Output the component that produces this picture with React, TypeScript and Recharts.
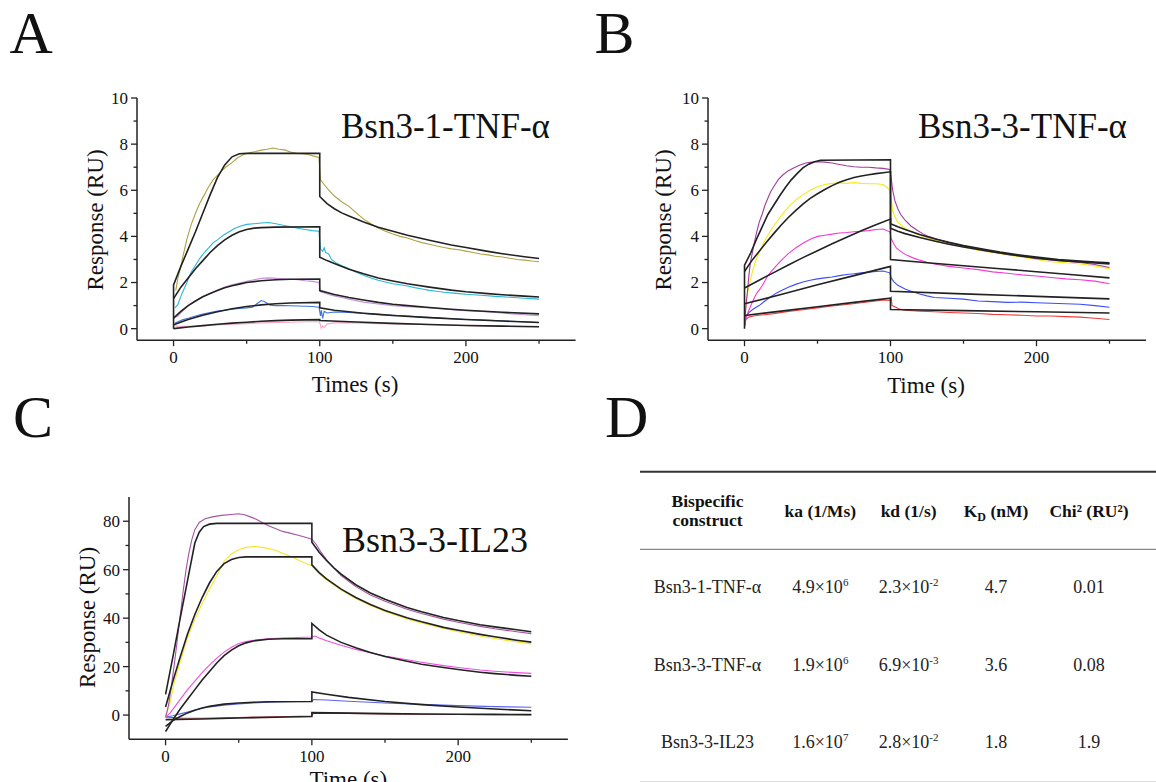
import React from 'react';
import { LineChart, Line, XAxis, YAxis } from 'recharts';

type P = [number, number];

// ---------------- Panel A : Bsn3-1-TNF-α ----------------
const A_OLIVE: P[] = [[1.5,1.65],[3,2.2],[5,2.7],[7,3.3],[9,3.85],[12,4.5],[15,5.0],[18,5.45],[21,5.8],[24,6.15],[27,6.45],[30,6.65],[33,6.85],[36,7.02],[40,7.2],[44,7.42],[48,7.55],[52,7.63],[56,7.68],[60,7.74],[64,7.78],[68,7.83],[72,7.78],[76,7.75],[80,7.66],[84,7.6],[88,7.58],[92,7.55],[96,7.48],[99.5,7.42],[100.5,6.45],[103,6.25],[106,6.02],[110,5.75],[115,5.5],[120,5.3],[125,5.02],[130,4.75],[135,4.55],[140,4.36],[145,4.22],[150,4.1],[155,4.0],[160,3.93],[165,3.82],[170,3.73],[175,3.66],[180,3.58],[185,3.52],[190,3.46],[195,3.42],[200,3.36],[205,3.3],[210,3.24],[215,3.2],[220,3.14],[225,3.11],[230,3.05],[235,3.0],[240,2.97],[245,2.93],[250,2.9]];
const A_CYAN: P[] = [[1,0.9],[3,1.05],[5,1.4],[7,1.7],[9,1.98],[12,2.45],[15,2.75],[18,3.05],[21,3.3],[24,3.5],[27,3.72],[30,3.85],[34,4.05],[38,4.2],[42,4.35],[46,4.45],[50,4.52],[55,4.55],[60,4.58],[65,4.6],[70,4.55],[75,4.48],[80,4.42],[85,4.35],[90,4.3],[95,4.25],[99.5,4.22],[100.5,3.45],[102,3.35],[103,3.5],[104,3.3],[106,3.25],[108,3.0],[112,2.82],[116,2.7],[120,2.6],[125,2.45],[130,2.32],[135,2.2],[140,2.1],[145,2.02],[150,1.95],[155,1.9],[160,1.85],[165,1.78],[170,1.72],[175,1.66],[180,1.62],[185,1.58],[190,1.55],[195,1.52],[200,1.49],[210,1.45],[220,1.4],[230,1.36],[240,1.32],[250,1.28]];
const A_LILAC: P[] = [[1,0.5],[3,0.55],[6,0.75],[10,1.0],[15,1.2],[20,1.38],[25,1.52],[30,1.68],[35,1.8],[40,1.9],[45,1.98],[50,2.05],[55,2.12],[60,2.18],[65,2.2],[70,2.18],[75,2.16],[80,2.14],[85,2.12],[90,2.08],[95,2.05],[99.5,2.0],[100.5,1.6],[103,1.55],[106,1.48],[110,1.42],[115,1.35],[120,1.28],[130,1.15],[140,1.07],[150,1.0],[160,0.95],[170,0.92],[180,0.88],[190,0.82],[200,0.78],[210,0.75],[220,0.7],[230,0.65],[240,0.6],[250,0.56]];
const A_BLUE: P[] = [[1,0.25],[3,0.3],[6,0.38],[10,0.45],[15,0.55],[20,0.63],[25,0.7],[30,0.76],[35,0.8],[40,0.84],[45,0.88],[50,0.9],[54,0.93],[57,1.08],[60,1.22],[62,1.18],[64,1.1],[66,1.02],[70,1.0],[75,1.0],[80,0.99],[85,0.98],[90,0.97],[95,0.96],[99.5,0.93],[100.5,0.55],[101,0.8],[102,0.45],[103,0.75],[105,0.68],[110,0.72],[120,0.7],[130,0.66],[140,0.62],[150,0.58],[160,0.55],[170,0.5],[180,0.47],[190,0.43],[200,0.4],[210,0.38],[220,0.35],[230,0.32],[240,0.3],[250,0.27]];
const A_PINK: P[] = [[1,0.15],[3,0.08],[6,0.1],[10,0.1],[20,0.12],[30,0.16],[40,0.19],[50,0.22],[60,0.25],[70,0.27],[80,0.28],[90,0.3],[99,0.3],[100,0.26],[101,0.02],[102,0.12],[103,0.05],[105,0.2],[110,0.25],[120,0.26],[130,0.24],[140,0.22],[150,0.2],[170,0.18],[190,0.15],[210,0.12],[230,0.1],[250,0.08]];
const A_FIT1: P[] = [[0,0],[0,1.9],[5,2.7],[10,3.45],[15,4.2],[20,5.0],[25,5.8],[30,6.55],[35,7.1],[40,7.45],[45,7.58],[50,7.6],[100,7.6],[100,5.73],[105,5.42],[110,5.2],[115,5.02],[120,4.88],[125,4.75],[130,4.62],[140,4.4],[150,4.22],[160,4.05],[175,3.83],[190,3.63],[200,3.52],[215,3.35],[225,3.25],[240,3.12],[250,3.04]];
const A_FIT2: P[] = [[0,1.3],[5,1.8],[10,2.2],[15,2.6],[20,2.95],[25,3.3],[30,3.6],[35,3.85],[40,4.05],[45,4.2],[50,4.3],[55,4.36],[60,4.38],[70,4.4],[100,4.42],[100,3.1],[105,2.95],[110,2.82],[120,2.58],[130,2.38],[140,2.2],[150,2.07],[160,1.95],[175,1.8],[190,1.67],[200,1.6],[215,1.52],[225,1.47],[240,1.41],[250,1.37]];
const A_FIT3: P[] = [[0,0.46],[5,0.75],[10,1.0],[15,1.2],[20,1.38],[25,1.52],[30,1.65],[35,1.77],[40,1.86],[45,1.93],[50,2.0],[60,2.08],[70,2.12],[80,2.14],[100,2.15],[100,1.65],[110,1.48],[120,1.35],[130,1.24],[140,1.14],[150,1.06],[160,1.0],[175,0.92],[190,0.84],[200,0.8],[225,0.71],[250,0.64]];
const A_FIT4: P[] = [[0,0.17],[10,0.4],[20,0.58],[30,0.73],[40,0.86],[50,0.96],[60,1.03],[70,1.08],[80,1.11],[100,1.14],[100,0.9],[110,0.8],[120,0.73],[130,0.67],[140,0.62],[150,0.57],[175,0.48],[200,0.4],[225,0.33],[250,0.27]];
const A_FIT5: P[] = [[0,0.0],[10,0.07],[20,0.13],[30,0.19],[40,0.24],[50,0.28],[60,0.32],[70,0.35],[80,0.37],[90,0.38],[100,0.39],[100,0.35],[125,0.29],[150,0.23],[175,0.18],[200,0.14],[225,0.11],[250,0.08]];

// ---------------- Panel B : Bsn3-3-TNF-α ----------------
const B_PURPLE: P[] = [[0,0.1],[1,1.0],[2,1.6],[3,2.3],[4,2.85],[6,3.5],[8,4.1],[10,4.6],[12,4.95],[14,5.35],[16,5.65],[18,5.95],[20,6.15],[23,6.45],[26,6.65],[30,6.85],[34,6.98],[38,7.1],[42,7.18],[46,7.22],[50,7.24],[55,7.22],[60,7.18],[65,7.12],[70,7.06],[75,7.02],[80,7.0],[85,7.0],[90,6.97],[95,6.95],[99.5,6.9],[100.5,6.5],[101.5,6.0],[103,5.55],[105,5.2],[107,4.95],[110,4.7],[114,4.45],[118,4.28],[122,4.12],[126,4.0],[130,3.92],[135,3.82],[140,3.73],[145,3.66],[150,3.58],[160,3.46],[170,3.33],[180,3.22],[190,3.14],[200,3.03],[210,2.98],[220,2.92],[230,2.87],[240,2.78],[250,2.65]];
const B_YELLOW: P[] = [[0,0.3],[1,1.0],[2,1.5],[4,2.1],[6,2.6],[8,3.0],[10,3.3],[13,3.7],[16,4.05],[20,4.45],[24,4.8],[28,5.12],[32,5.4],[36,5.62],[40,5.8],[45,6.0],[50,6.15],[55,6.25],[60,6.3],[65,6.32],[70,6.3],[75,6.33],[80,6.3],[85,6.28],[90,6.28],[95,6.25],[98,6.1],[99.5,6.0],[100.5,5.6],[101.5,5.1],[103,4.85],[105,4.62],[108,4.45],[112,4.28],[116,4.15],[120,4.05],[125,3.95],[130,3.86],[135,3.76],[140,3.68],[150,3.54],[160,3.4],[170,3.3],[180,3.2],[190,3.1],[200,3.0],[210,2.9],[220,2.86],[230,2.8],[240,2.72],[250,2.6]];
const B_MAGENTA: P[] = [[0,0.1],[1,0.5],[3,0.8],[5,1.1],[8,1.5],[12,1.85],[16,2.3],[20,2.6],[25,2.95],[30,3.25],[35,3.5],[40,3.7],[45,3.88],[50,4.0],[55,4.05],[60,4.1],[65,4.15],[70,4.17],[75,4.2],[80,4.22],[85,4.25],[90,4.3],[95,4.32],[99.5,4.2],[100.5,3.9],[102,3.7],[104,3.5],[107,3.35],[110,3.22],[115,3.08],[120,2.97],[125,2.88],[130,2.8],[140,2.7],[150,2.63],[160,2.56],[170,2.46],[180,2.4],[190,2.33],[200,2.28],[210,2.22],[220,2.16],[230,2.12],[240,2.06],[250,1.95]];
const B_BLUE: P[] = [[0,0.1],[1,0.5],[3,0.7],[6,0.85],[10,1.0],[14,1.2],[18,1.38],[22,1.55],[26,1.68],[30,1.8],[35,1.92],[40,2.02],[45,2.1],[50,2.16],[55,2.2],[60,2.24],[65,2.3],[70,2.35],[75,2.38],[80,2.42],[85,2.45],[90,2.48],[95,2.5],[99.5,2.42],[100.5,2.2],[102,2.05],[105,1.88],[110,1.72],[115,1.6],[120,1.5],[125,1.42],[130,1.35],[140,1.32],[150,1.28],[160,1.2],[170,1.17],[180,1.14],[190,1.15],[200,1.12],[210,1.1],[220,1.08],[230,1.06],[240,1.0],[250,0.93]];
const B_RED: P[] = [[0,0.1],[1,0.4],[3,0.5],[6,0.55],[10,0.58],[20,0.65],[30,0.75],[40,0.82],[50,0.9],[60,0.98],[70,1.05],[80,1.12],[90,1.2],[95,1.24],[99.5,1.22],[100.5,1.35],[101,1.0],[103,0.95],[106,0.85],[110,0.8],[120,0.76],[130,0.73],[140,0.7],[150,0.68],[160,0.66],[170,0.62],[180,0.6],[190,0.58],[200,0.55],[210,0.55],[220,0.52],[230,0.5],[240,0.45],[250,0.4]];
const B_FIT1: P[] = [[0,0],[0,2.75],[4,3.25],[8,3.85],[12,4.4],[16,4.95],[20,5.35],[24,5.75],[28,6.12],[32,6.45],[36,6.72],[40,6.97],[44,7.13],[48,7.24],[52,7.3],[100,7.32],[100,4.55],[105,4.42],[110,4.3],[120,4.08],[130,3.9],[140,3.74],[150,3.6],[165,3.43],[175,3.32],[190,3.18],[200,3.1],[215,3.0],[225,2.95],[240,2.89],[250,2.85]];
const B_FIT2: P[] = [[0,2.48],[5,2.95],[10,3.35],[15,3.75],[20,4.12],[25,4.48],[30,4.82],[35,5.12],[40,5.4],[45,5.65],[50,5.85],[55,6.03],[60,6.2],[65,6.35],[70,6.46],[75,6.55],[80,6.62],[85,6.67],[90,6.72],[95,6.76],[100,6.8],[100,4.35],[105,4.22],[110,4.12],[120,3.95],[130,3.8],[140,3.66],[150,3.54],[165,3.38],[175,3.28],[190,3.14],[200,3.06],[215,2.96],[225,2.91],[240,2.85],[250,2.81]];
const B_FIT3: P[] = [[0,1.76],[10,2.1],[20,2.43],[30,2.76],[40,3.08],[50,3.38],[60,3.68],[70,3.96],[80,4.24],[90,4.5],[100,4.75],[100,3.0],[125,2.86],[150,2.73],[175,2.6],[200,2.47],[225,2.34],[250,2.2]];
const B_FIT4: P[] = [[0,1.08],[25,1.48],[50,1.9],[75,2.3],[100,2.7],[100,1.62],[150,1.51],[200,1.4],[250,1.29]];
const B_FIT5: P[] = [[0,0.57],[25,0.76],[50,0.95],[75,1.14],[100,1.32],[100,0.83],[150,0.78],[200,0.73],[250,0.68]];

// ---------------- Panel C : Bsn3-3-IL23 ----------------
const C_PURPLE: P[] = [[0,-0.8],[2,4],[4,12],[6,21],[8,31],[10,41],[12,51],[14,60],[16,67],[18,72.5],[20,76.5],[23,79.5],[27,81],[32,81.8],[38,82.4],[45,82.8],[50,83.1],[54,82.7],[58,81.8],[62,80.8],[66,79.5],[70,78.2],[75,77],[80,75.8],[85,75.1],[90,74.3],[95,73.5],[100,72.6],[103,70.4],[106,67.5],[110,64.2],[115,60.6],[120,57.6],[130,53],[140,49.6],[150,47],[165,43.7],[175,41.9],[190,39.6],[200,38.3],[215,36.6],[225,35.6],[240,34.4],[250,33.6]];
const C_YELLOW: P[] = [[0,-0.8],[3,5],[6,13.6],[10,22],[15,32],[20,39.5],[25,46],[30,52],[35,57.5],[40,63.5],[45,66.5],[50,68.2],[55,69.2],[60,69.6],[65,69.3],[70,68.8],[75,68],[80,66.8],[85,65.6],[90,64.2],[95,62.8],[100,61.6],[105,58.3],[110,55.8],[120,51.6],[130,48.1],[140,45.2],[150,42.7],[165,39.7],[175,38],[190,35.7],[200,34.4],[215,32.6],[225,31.6],[240,30.2],[250,29.4]];
const C_MAGENTA: P[] = [[0,-0.8],[3,0.8],[6,3.2],[10,6.5],[15,10.5],[20,14],[25,17.5],[30,20.6],[35,23.5],[40,26],[45,28],[50,29.5],[55,30.3],[60,30.9],[70,31.5],[80,31.8],[90,32],[100,32.2],[102,32.6],[105,31.8],[110,30.7],[120,28.8],[130,27.1],[140,25.7],[150,24.4],[165,22.8],[175,21.8],[190,20.4],[200,19.6],[215,18.6],[225,18.1],[240,17.5],[250,17.2]];
const C_BLUE: P[] = [[0,-0.8],[5,-0.3],[10,0.5],[15,1.3],[20,2.1],[25,2.8],[30,3.3],[40,4.1],[50,4.6],[60,5.0],[70,5.3],[80,5.5],[90,5.6],[100,5.7],[101,6.4],[110,6.2],[125,5.7],[150,5.0],[175,4.4],[200,3.9],[225,3.5],[250,3.2]];
const C_RED: P[] = [[0,-0.8],[10,-1.2],[25,-1.3],[50,-1.0],[75,-0.7],[100,-0.4],[101,0.8],[125,0.7],[150,0.5],[175,0.35],[200,0.25],[225,0.15],[250,0.1]];
const C_FIT1: P[] = [[0,8.5],[5,24],[10,40],[15,55.5],[20,71],[23,75.5],[26,77.8],[30,78.8],[35,79.1],[100,79.1],[100,71.3],[105,67.2],[110,63.8],[115,60.8],[120,58.2],[130,53.8],[140,50.4],[150,47.8],[165,44.4],[175,42.6],[190,40.3],[200,39],[215,37.3],[225,36.4],[240,35.2],[250,34.4]];
const C_FIT2: P[] = [[0,3.3],[5,14],[10,24],[15,33.5],[20,41.5],[25,48.5],[30,54.5],[35,59.3],[40,62.5],[45,64.2],[50,65],[55,65.3],[100,65.3],[100,62],[105,58.8],[110,56.2],[120,52],[130,48.5],[140,45.6],[150,43.2],[165,40.2],[175,38.5],[190,36.2],[200,35],[215,33.3],[225,32.3],[240,30.9],[250,30.1]];
const C_FIT3: P[] = [[0,-6.8],[5,-2],[10,2.5],[15,6.5],[20,10.5],[25,14.5],[30,18],[35,21.5],[40,24.5],[45,26.8],[50,28.6],[55,29.8],[60,30.6],[70,31.3],[80,31.5],[100,31.5],[100,37.8],[105,35.2],[110,33],[120,30],[130,27.8],[140,25.8],[150,24.2],[165,22.2],[175,21],[190,19.6],[200,18.8],[215,17.7],[225,17.1],[240,16.4],[250,16]];
const C_FIT4: P[] = [[0,-4.7],[5,-2.3],[10,-0.6],[15,0.9],[20,2],[25,2.9],[30,3.6],[40,4.5],[50,5],[60,5.3],[70,5.5],[100,5.6],[100,9.5],[110,8.6],[125,7.3],[150,5.6],[175,4.3],[200,3.3],[225,2.5],[250,1.8]];
const C_FIT5: P[] = [[0,-1.9],[25,-1.6],[50,-1.2],[75,-0.9],[100,-0.6],[100,1.0],[125,0.8],[150,0.6],[175,0.45],[200,0.35],[225,0.27],[250,0.2]];

// ---------------- Axis ticks ----------------
const X_TICKS = [0, 50, 100, 150, 200, 250];
const X_MAJOR = [0, 100, 200];
const AB_Y_TICKS = [0, 1, 2, 3, 4, 5, 6, 7, 8, 9, 10];
const AB_Y_MAJOR = [0, 2, 4, 6, 8, 10];
const C_Y_TICKS = [0, 10, 20, 30, 40, 50, 60, 70, 80];
const C_Y_MAJOR = [0, 20, 40, 60, 80];

// ---------------- Table D ----------------
const T_CONSTRUCTS = ['Bsn3-1-TNF-α', 'Bsn3-3-TNF-α', 'Bsn3-3-IL23'];
const T_KA_MANT = ['4.9', '1.9', '1.6'];
const T_KA_EXP = ['6', '6', '7'];
const T_KD_MANT = ['2.3', '6.9', '2.8'];
const T_KD_EXP = ['-2', '-3', '-2'];
const T_KDNM = ['4.7', '3.6', '1.8'];
const T_CHI = ['0.01', '0.08', '1.9'];

const FONT = '"Liberation Serif", "Times New Roman", serif';
const FIT = '#222222';

const toData = (pts: P[]) => pts.map(([t, v]) => ({ t, v }));

type S = { pts: P[]; color: string; w: number };

const mkX = (majors: number[]) => (props: any) => {
  const { x, y, payload } = props;
  const major = majors.includes(payload.value);
  return (
    <g>
      <line x1={x} y1={y} x2={x} y2={y + (major ? 6 : 3.5)} stroke="#222" strokeWidth={1.3} />
      {major && (
        <text x={x} y={y + 23} textAnchor="middle" fontSize={17} fontFamily={FONT} fill="#111">
          {payload.value}
        </text>
      )}
    </g>
  );
};

const mkY = (majors: number[]) => (props: any) => {
  const { x, y, payload } = props;
  const major = majors.includes(payload.value);
  return (
    <g>
      <line x1={x - (major ? 6 : 3.5)} y1={y} x2={x} y2={y} stroke="#222" strokeWidth={1.3} />
      {major && (
        <text x={x - 9} y={y} dy="0.35em" textAnchor="end" fontSize={17} fontFamily={FONT} fill="#111">
          {payload.value}
        </text>
      )}
    </g>
  );
};

function Panel(props: {
  left: number; top: number; w: number; h: number;
  yDomain: [number, number]; yTicks: number[]; yMajor: number[];
  series: S[];
}) {
  const YW = 60, MT = 10, MR = 10, XH = 40;
  const { left, top, w, h, yDomain, yTicks, yMajor, series } = props;
  return (
    <div style={{ position: 'absolute', left: left - YW, top: top - MT }}>
      <LineChart width={YW + w + MR} height={MT + h + XH} margin={{ top: MT, right: MR, bottom: 0, left: 0 }} style={{ overflow: 'visible' }}>
        <XAxis
          dataKey="t" type="number" domain={[-25, 275]} ticks={X_TICKS} interval={0} allowDataOverflow
          height={XH} tickLine={false} tickSize={0} tickMargin={0}
          axisLine={{ stroke: '#222', strokeWidth: 1.5 }} tick={mkX(X_MAJOR)}
        />
        <YAxis
          type="number" domain={yDomain} ticks={yTicks} interval={0} allowDataOverflow
          width={YW} tickLine={false} tickSize={0} tickMargin={0}
          axisLine={{ stroke: '#222', strokeWidth: 1.5 }} tick={mkY(yMajor)}
        />
        {series.map((s, i) => (
          <Line
            key={i} data={toData(s.pts)} dataKey="v" type="linear" stroke={s.color} strokeWidth={s.w}
            dot={false} activeDot={false} isAnimationActive={false} legendType="none"
          />
        ))}
      </LineChart>
    </div>
  );
}

const DW = 1.1, FW = 1.6;

const SERIES_A: S[] = [
  { pts: A_PINK, color: '#f2a6c6', w: DW },
  { pts: A_BLUE, color: '#3f74e0', w: DW },
  { pts: A_LILAC, color: '#c490e0', w: DW },
  { pts: A_CYAN, color: '#28b8d8', w: DW },
  { pts: A_OLIVE, color: '#b0a040', w: DW },
  { pts: A_FIT5, color: FIT, w: FW },
  { pts: A_FIT4, color: FIT, w: FW },
  { pts: A_FIT3, color: FIT, w: FW },
  { pts: A_FIT2, color: FIT, w: FW },
  { pts: A_FIT1, color: FIT, w: FW },
];
const SERIES_B: S[] = [
  { pts: B_RED, color: '#f03c3c', w: DW },
  { pts: B_BLUE, color: '#3d4ef5', w: DW },
  { pts: B_MAGENTA, color: '#f53ad6', w: DW },
  { pts: B_YELLOW, color: '#f7ea1a', w: DW },
  { pts: B_PURPLE, color: '#9e3d9e', w: DW },
  { pts: B_FIT5, color: FIT, w: FW },
  { pts: B_FIT4, color: FIT, w: FW },
  { pts: B_FIT3, color: FIT, w: FW },
  { pts: B_FIT2, color: FIT, w: FW },
  { pts: B_FIT1, color: FIT, w: FW },
];
const SERIES_C: S[] = [
  { pts: C_RED, color: '#c83232', w: DW },
  { pts: C_BLUE, color: '#5a64f0', w: DW },
  { pts: C_MAGENTA, color: '#f04ee0', w: DW },
  { pts: C_YELLOW, color: '#f5e62a', w: DW },
  { pts: C_PURPLE, color: '#a652a6', w: DW },
  { pts: C_FIT5, color: FIT, w: FW },
  { pts: C_FIT4, color: FIT, w: FW },
  { pts: C_FIT3, color: FIT, w: FW },
  { pts: C_FIT2, color: FIT, w: FW },
  { pts: C_FIT1, color: FIT, w: FW },
];

const COLS = [707.5, 820.3, 908.6, 996, 1089];
const ROW_Y = [592.5, 670.7, 748.3];

export default function App() {
  return (
    <div style={{ position: 'absolute', left: 0, top: 0, width: 1156, height: 782, background: '#fff', overflow: 'hidden' }}>
      <Panel left={136.7} top={98.4} w={438.6} h={242.2} yDomain={[-0.5, 10]} yTicks={AB_Y_TICKS} yMajor={AB_Y_MAJOR} series={SERIES_A} />
      <Panel left={707.5} top={98.4} w={438} h={242.2} yDomain={[-0.5, 10]} yTicks={AB_Y_TICKS} yMajor={AB_Y_MAJOR} series={SERIES_B} />
      <Panel left={129.1} top={496.7} w={438.9} h={242.3} yDomain={[-10, 90]} yTicks={C_Y_TICKS} yMajor={C_Y_MAJOR} series={SERIES_C} />

      <svg width={1156} height={782} style={{ position: 'absolute', left: 0, top: 0, pointerEvents: 'none' }} fontFamily={FONT} fill="#111">
        {/* panel letters */}
        <text x={9.6} y={53} fontSize={60}>A</text>
        <text x={594.5} y={53} fontSize={60}>B</text>
        <text x={13} y={436.5} fontSize={60}>C</text>
        <text x={605} y={437} fontSize={60}>D</text>

        {/* panel titles */}
        <text x={341} y={138} fontSize={35}>Bsn3-1-TNF-α</text>
        <text x={918} y={138} fontSize={35}>Bsn3-3-TNF-α</text>
        <text x={342} y={551.7} fontSize={36}>Bsn3-3-IL23</text>

        {/* axis titles */}
        <text transform="translate(102.7,220) rotate(-90)" textAnchor="middle" fontSize={23}>Response (RU)</text>
        <text x={355} y={391.7} textAnchor="middle" fontSize={23}>Times (s)</text>
        <text transform="translate(670.7,220) rotate(-90)" textAnchor="middle" fontSize={23}>Response (RU)</text>
        <text x={926} y={393.3} textAnchor="middle" fontSize={23}>Time (s)</text>
        <text transform="translate(95,617.5) rotate(-90)" textAnchor="middle" fontSize={23}>Response (RU)</text>
        <text x={348.3} y={787} textAnchor="middle" fontSize={23}>Time (s)</text>

        {/* table D */}
        <line x1={640} y1={471.7} x2={1156} y2={471.7} stroke="#333" strokeWidth={2} />
        <line x1={640} y1={549.3} x2={1156} y2={549.3} stroke="#888" strokeWidth={1.3} />
        <line x1={640} y1={781.5} x2={1156} y2={781.5} stroke="#ddd" strokeWidth={1} />

        <g fontWeight="bold" fontSize={17.5} textAnchor="middle">
          <text x={COLS[0]} y={506.5}>Bispecific</text>
          <text x={COLS[0]} y={526.3}>construct</text>
          <text x={COLS[1]} y={517.3}>ka (1/Ms)</text>
          <text x={COLS[2]} y={517.3}>kd (1/s)</text>
          <text x={COLS[3]} y={517.3}>K<tspan fontSize={12} dy={4}>D</tspan><tspan dy={-4}> (nM)</tspan></text>
          <text x={COLS[4]} y={517.3}>Chi² (RU²)</text>
        </g>

        <g fontSize={18} textAnchor="middle" fill="#222">
          {T_CONSTRUCTS.map((c, i) => (
            <g key={c}>
              <text x={COLS[0]} y={ROW_Y[i]}>{c}</text>
              <text x={COLS[1]} y={ROW_Y[i]}>{T_KA_MANT[i]}×10<tspan fontSize={11} dy={-7}>{T_KA_EXP[i]}</tspan></text>
              <text x={COLS[2]} y={ROW_Y[i]}>{T_KD_MANT[i]}×10<tspan fontSize={11} dy={-7}>{T_KD_EXP[i]}</tspan></text>
              <text x={COLS[3]} y={ROW_Y[i]}>{T_KDNM[i]}</text>
              <text x={COLS[4]} y={ROW_Y[i]}>{T_CHI[i]}</text>
            </g>
          ))}
        </g>
      </svg>
    </div>
  );
}
